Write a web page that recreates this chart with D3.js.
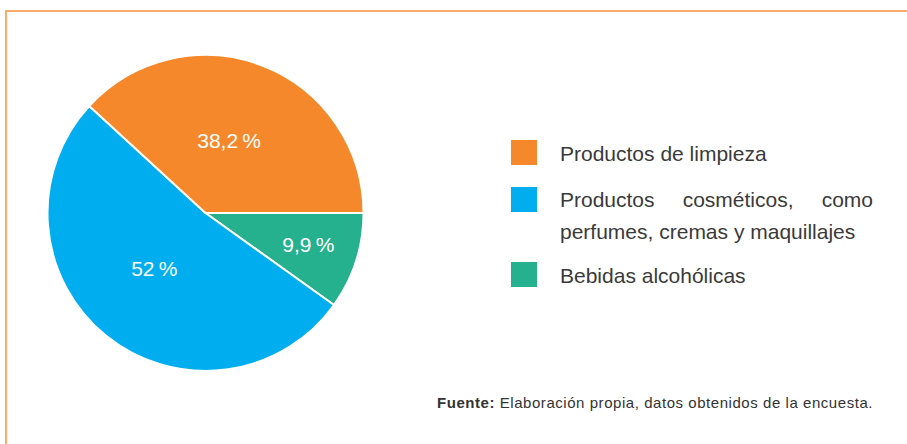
<!DOCTYPE html>
<html>
<head>
<meta charset="utf-8">
<script src="https://cdn.jsdelivr.net/npm/d3@7"></script>
<style>
    html, body { margin: 0; padding: 0; background: #fff; }
    svg { display: block; }
    text { font-family: "Liberation Sans", Arial, sans-serif; }
</style>
</head>
<body>
<svg id="chart" width="907" height="444"></svg>
<script>
(function() {
    // data, in drawing order (clockwise from 3 o'clock)
    var categories = ["Bebidas alcohólicas", "Productos cosméticos", "Productos de limpieza"];
    var values = [9.9, 52, 38.2];
    var labels = ["9,9\u2009%", "52\u2009%", "38,2\u2009%"];
    var colors = ["#25b08e", "#00aeef", "#f5882a"];

    // legend order as in the picture
    var legend_order = [2, 1, 0];
    var legend_lines = [
        [["Productos de limpieza"]],
        [["Productos", "cosméticos,", "como"], ["perfumes, cremas y maquillajes"]],
        [["Bebidas alcohólicas"]]
    ];

    var W = 907, H = 444;
    var cx = 205.5, cy = 213, radius = 158;

    var svg = d3.select("#chart");

    // frame (top and left only)
    svg.append("path")
        .attr("d", "M" + W + ",11 H6 V" + H)
        .attr("fill", "none")
        .attr("stroke", "#f9ab6c")
        .attr("stroke-width", 2);

    var pie = d3.pie()
        .sort(null)
        .value(function(d) { return d; })
        .startAngle(Math.PI / 2)
        .endAngle(Math.PI / 2 + 2 * Math.PI);

    var arc = d3.arc().innerRadius(0).outerRadius(radius);

    var g = svg.append("g").attr("transform", "translate(" + cx + "," + cy + ")");

    var arcs = pie(values);

    g.selectAll("path.slice")
        .data(arcs)
        .enter()
        .append("path")
        .attr("class", "slice")
        .attr("d", arc)
        .attr("fill", function(d, i) { return colors[i]; })
        .attr("stroke", "#fff")
        .attr("stroke-width", 2)
        .attr("stroke-linejoin", "round");

    // label placement: radial fraction + small angle nudge (deg) per slice
    var label_r = [0.68, 0.48, 0.48];
    var label_da = [-1, 3.4, -3.2];
    g.selectAll("text.lbl")
        .data(arcs)
        .enter()
        .append("text")
        .attr("class", "lbl")
        .attr("transform", function(d, i) {
            var a = (d.startAngle + d.endAngle) / 2 + label_da[i] * Math.PI / 180;
            var r = radius * label_r[i];
            return "translate(" + (Math.sin(a) * r) + "," + (-Math.cos(a) * r) + ")";
        })
        .attr("text-anchor", "middle")
        .attr("dy", "0.36em")
        .attr("fill", "#fff")
        .attr("font-size", 21)
        .text(function(d, i) { return labels[i]; });

    // legend
    var lx = 511, tx = 560, txr = 873;
    var sq_y = [140, 187, 262];
    var base_y = [[161], [207, 239], [283]];

    var leg = svg.append("g");
    legend_order.forEach(function(idx, k) {
        leg.append("rect")
            .attr("x", lx)
            .attr("y", sq_y[k])
            .attr("width", 26)
            .attr("height", 25)
            .attr("fill", colors[idx]);

        legend_lines[k].forEach(function(words, j) {
            var t = leg.append("text")
                .attr("y", base_y[k][j])
                .attr("font-size", 21)
                .attr("fill", "#3a3a3a");

            if (words.length == 1) {
                t.attr("x", tx).text(words[0]);
            } else {
                // justified line: spread words across the column
                var spans = words.map(function(w) { return t.append("tspan").text(w); });
                var widths = spans.map(function(s) { return s.node().getComputedTextLength(); });
                var gap = (txr - tx - d3.sum(widths)) / (words.length - 1);
                var x = tx;
                spans.forEach(function(s, n) {
                    s.attr("x", x);
                    x += widths[n] + gap;
                });
            }
        });
    });

    // source note
    var src = svg.append("text")
        .attr("x", 437)
        .attr("y", 408)
        .attr("font-size", 15)
        .attr("letter-spacing", 0.55)
        .attr("fill", "#333");
    src.append("tspan").attr("font-weight", "bold").text("Fuente:");
    src.append("tspan").text(" Elaboración propia, datos obtenidos de la encuesta.");

}());
</script>
</body>
</html>
